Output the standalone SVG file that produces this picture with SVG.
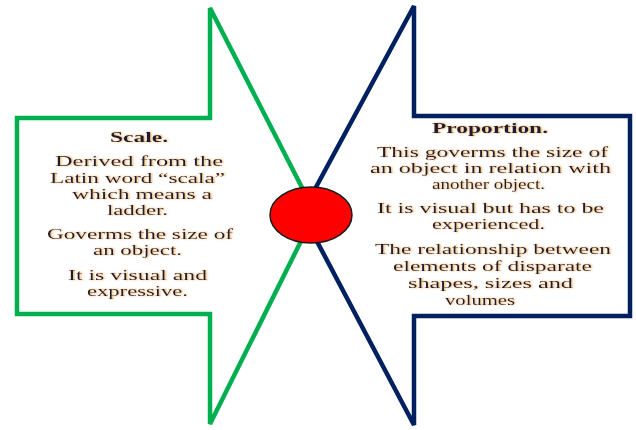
<svg xmlns="http://www.w3.org/2000/svg" width="636" height="430" viewBox="0 0 636 430">
<defs>
<filter id="glow" x="-5%" y="-30%" width="110%" height="160%">
<feGaussianBlur in="SourceAlpha" stdDeviation="0.9" result="b"/>
<feFlood flood-color="#e8a040" flood-opacity="0.9"/>
<feComposite in2="b" operator="in" result="g"/>
<feOffset in="g" dx="0.6" dy="0.4" result="go"/>
<feMerge><feMergeNode in="go"/><feMergeNode in="SourceGraphic"/></feMerge>
</filter>
</defs>
<style>
.shape{fill:none;stroke-width:4.5;stroke-linejoin:miter}
.green{stroke:#00b050}
.blue{stroke:#002060}
text{font-family:"Liberation Serif","Times New Roman",serif;font-size:14.5px;fill:#1c1c30;filter:url(#glow)}
.title{font-weight:bold}
</style>
<rect width="636" height="430" fill="#ffffff"/>
<g id="node-scale">
<polygon class="shape green" points="17,118 210,118 210,8 315,213 210,424 210,314 17,314"/>
<text class="title" x="110" y="142" textLength="58" lengthAdjust="spacingAndGlyphs">Scale.</text>
<text x="55" y="166" textLength="168" lengthAdjust="spacingAndGlyphs">Derived from  the</text>
<text x="50" y="183" textLength="175" lengthAdjust="spacingAndGlyphs">Latin word  “scala”</text>
<text x="72" y="199" textLength="140" lengthAdjust="spacingAndGlyphs">which means a</text>
<text x="107" y="215" textLength="61" lengthAdjust="spacingAndGlyphs">ladder.</text>
<text x="47" y="239" textLength="186" lengthAdjust="spacingAndGlyphs">Goverms the size  of</text>
<text x="93" y="255" textLength="89" lengthAdjust="spacingAndGlyphs">an object.</text>
<text x="68" y="280" textLength="139" lengthAdjust="spacingAndGlyphs">It is visual  and</text>
<text x="87" y="296" textLength="101" lengthAdjust="spacingAndGlyphs">expressive.</text>
</g>
<g id="node-proportion">
<polygon class="shape blue" points="630,116 414,116 414,6 302,213 414,425 414,316 630,316"/>
<text class="title" x="432" y="133" textLength="116" lengthAdjust="spacingAndGlyphs">Proportion.</text>
<text x="377" y="157" textLength="231" lengthAdjust="spacingAndGlyphs">This goverms  the size of</text>
<text x="370" y="173" textLength="241" lengthAdjust="spacingAndGlyphs">an object  in relation  with</text>
<text x="432" y="189" textLength="113" lengthAdjust="spacingAndGlyphs">another object.</text>
<text x="377" y="213" textLength="227" lengthAdjust="spacingAndGlyphs">It is visual  but has to be</text>
<text x="432" y="229" textLength="113" lengthAdjust="spacingAndGlyphs">experienced.</text>
<text x="375" y="254" textLength="236" lengthAdjust="spacingAndGlyphs">The relationship  between</text>
<text x="393" y="271" textLength="199" lengthAdjust="spacingAndGlyphs">elements of disparate</text>
<text x="408" y="288" textLength="165" lengthAdjust="spacingAndGlyphs">shapes, sizes  and</text>
<text x="445" y="305" textLength="70" lengthAdjust="spacingAndGlyphs">volumes</text>
</g>
<g id="node-center">
<ellipse cx="311" cy="215" rx="41" ry="28" fill="#ff0000" stroke="#1a1a1a" stroke-width="1.5"/>
</g>
<g id="connectors"></g>
</svg>
